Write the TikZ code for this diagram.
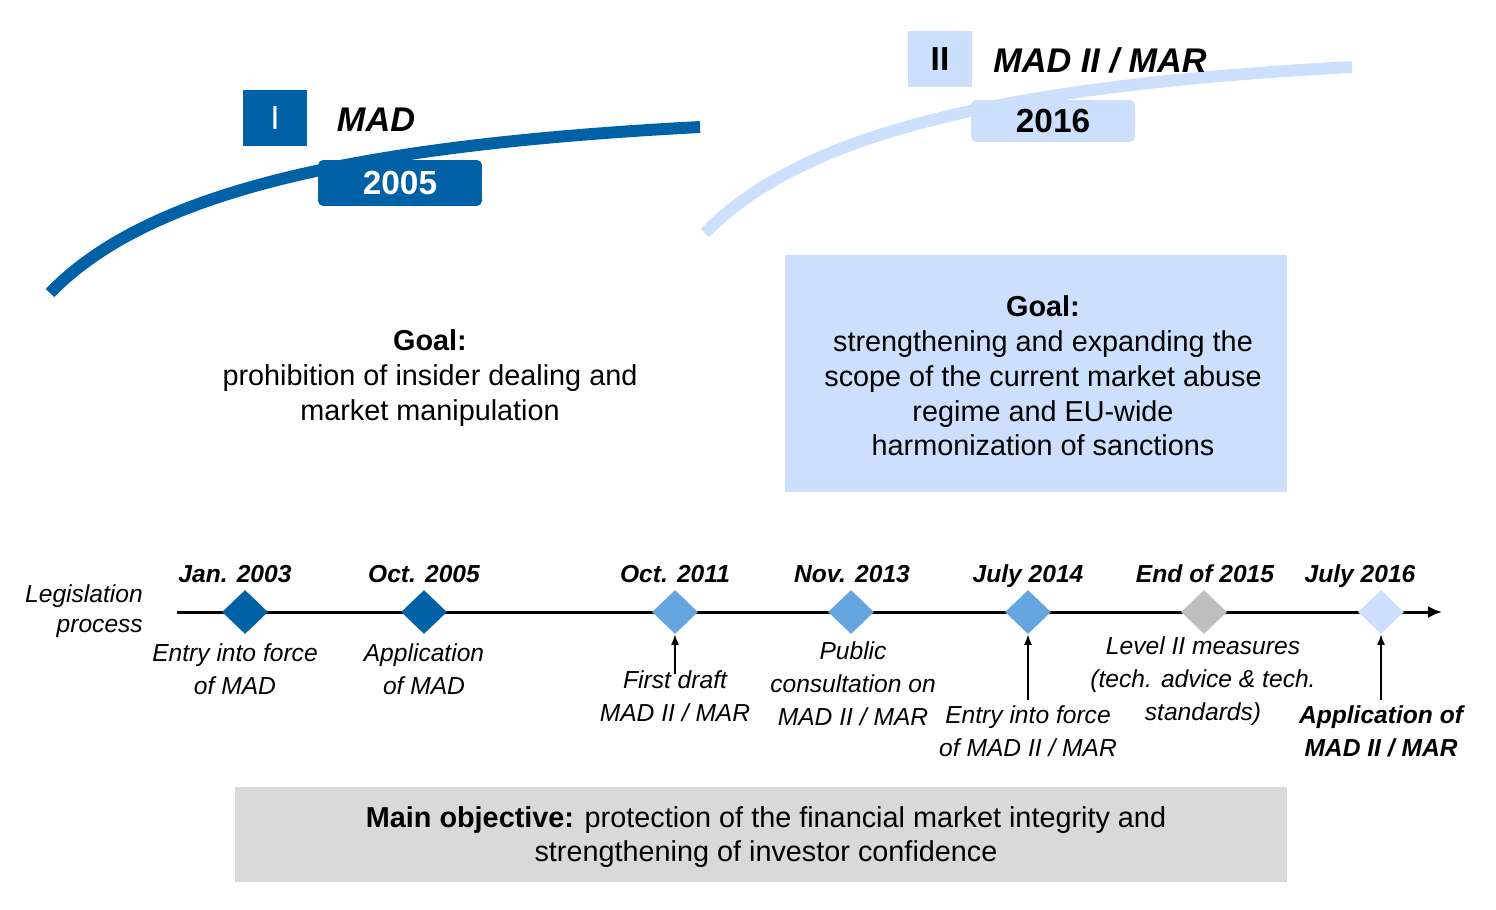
\documentclass[tikz,border=0pt]{standalone}
\usepackage{fontspec}
\setmainfont{Liberation Sans}
\usepackage{xcolor}
\usetikzlibrary{shapes.geometric, arrows.meta}
\definecolor{madblue}{HTML}{0061A6}
\definecolor{midblue}{HTML}{64A5E0}
\definecolor{paleblue}{HTML}{CCDFFD}
\definecolor{stepgray}{HTML}{BFBFBF}
\definecolor{boxgray}{HTML}{D9D9D9}

\begin{document}
\begin{tikzpicture}[x=0.02cm, y=-0.02cm,
    milestone/.style={diamond, inner sep=0pt, minimum width=0.92cm, minimum height=0.88cm},
    datelbl/.style={font=\fontsize{14}{17}\selectfont\bfseries\itshape, anchor=base},
    evtlbl/.style={font=\fontsize{14}{18.7}\selectfont\itshape, align=center},
    goaltxt/.style={font=\fontsize{16.4}{19.8}\selectfont, align=center},
    phasebox/.style={minimum width=1.28cm, minimum height=1.12cm, inner sep=0pt, font=\fontsize{19}{22}\selectfont},
    yearbox/.style={rounded corners=3pt, minimum width=3.28cm, inner sep=0pt, font=\fontsize{19}{22}\selectfont\bfseries},
    phasename/.style={font=\fontsize{19.5}{22}\selectfont\bfseries\itshape},
    pointer/.style={line width=0.8pt, -{Latex[length=6pt, width=4.5pt]}}]
    \useasboundingbox (0,0) rectangle (1496,909);

    % Phase curves
    \draw[madblue, line width=6.8pt] (50,293) .. controls (150,190) and (360,145) .. (700,127);
    \draw[paleblue, line width=6.8pt] (705,233) .. controls (805,130) and (1015,85) .. (1352,67);

    % Phase I
    \node[phasebox, fill=madblue, text=white] (ph1) at (275,118) {I};
    \node[phasename] (mad1) at (376,120) {MAD};
    \node[yearbox, fill=madblue, text=white, minimum height=0.92cm] (yr1) at (400,183) {2005};

    % Phase II
    \node[phasebox, fill=paleblue, font=\fontsize{19}{22}\selectfont\bfseries] (ph2) at (940,59) {II};
    \node[phasename] (mad2) at (1100,60) {MAD II / MAR};
    \node[yearbox, fill=paleblue, minimum height=0.84cm] (yr2) at (1053,121) {2016};

    % Goals
    \node[goaltxt] (goal1) at (430,378) {\textbf{Goal:}\\prohibition of insider dealing and\\market manipulation};
    \node[fill=paleblue, minimum width=10.04cm, minimum height=4.74cm] (goalbox) at (1036,373.5) {};
    \node[goaltxt] (goal2) at (1043,376) {\textbf{Goal:}\\strengthening and expanding the\\scope of the current market abuse\\regime and EU-wide\\harmonization of sanctions};

    % Timeline
    \coordinate (tlstart) at (177,612);
    \coordinate (tlend) at (1442,612);
    \draw[line width=1.7pt, -{Latex[length=8pt, width=7pt]}] (tlstart) -- (tlend);
    \node[evtlbl, align=right, font=\fontsize{14}{17}\selectfont\itshape, anchor=east] (legis) at (149,611) {Legislation\\process};

    \foreach \x/\dx/\col/\nm/\dt in {245/235/madblue/m1/Jan. 2003, 424/424/madblue/m2/Oct. 2005,
        675/675/midblue/m3/Oct. 2011, 851/852/midblue/m4/Nov. 2013, 1028/1028/midblue/m5/July 2014,
        1204/1205/stepgray/m6/End of 2015, 1381/1360/paleblue/m7/July 2016}{
        \node[milestone, fill=\col] (\nm) at (\x,612) {};
        \node[datelbl] (d\nm) at (\dx,582) {\dt};
    }

    % Events
    \node[evtlbl] (lab1) at (235,669) {Entry into force\\of MAD};
    \node[evtlbl] (lab2) at (424,669.5) {Application\\of MAD};
    \node[evtlbl] (lab3) at (675,696) {First draft\\MAD II / MAR};
    \node[evtlbl] (lab4) at (853,684) {Public\\consultation on\\MAD II / MAR};
    \node[evtlbl] (lab5) at (1028,731.5) {Entry into force\\of MAD II / MAR};
    \node[evtlbl] (lab6) at (1203,681) {Level II measures\\(tech. advice \& tech.\\standards)};
    \node[evtlbl, font=\fontsize{14}{18.7}\selectfont\bfseries\itshape] (lab7) at (1381,731.5) {Application of\\MAD II / MAR};

    \draw[pointer, shorten <=-0.2cm] (lab3.north) -- (m3.south);
    \draw[pointer] (lab5.north) -- (m5.south);
    \draw[pointer] (lab7.north) -- (m7.south);

    % Main objective
    \node[fill=boxgray, minimum width=21.04cm, minimum height=1.9cm] (objbox) at (761,834.5) {};
    \node[goaltxt] (objtxt) at (766,837) {\textbf{Main objective:} protection of the financial market integrity and\\strengthening of investor confidence};
\end{tikzpicture}
\end{document}
